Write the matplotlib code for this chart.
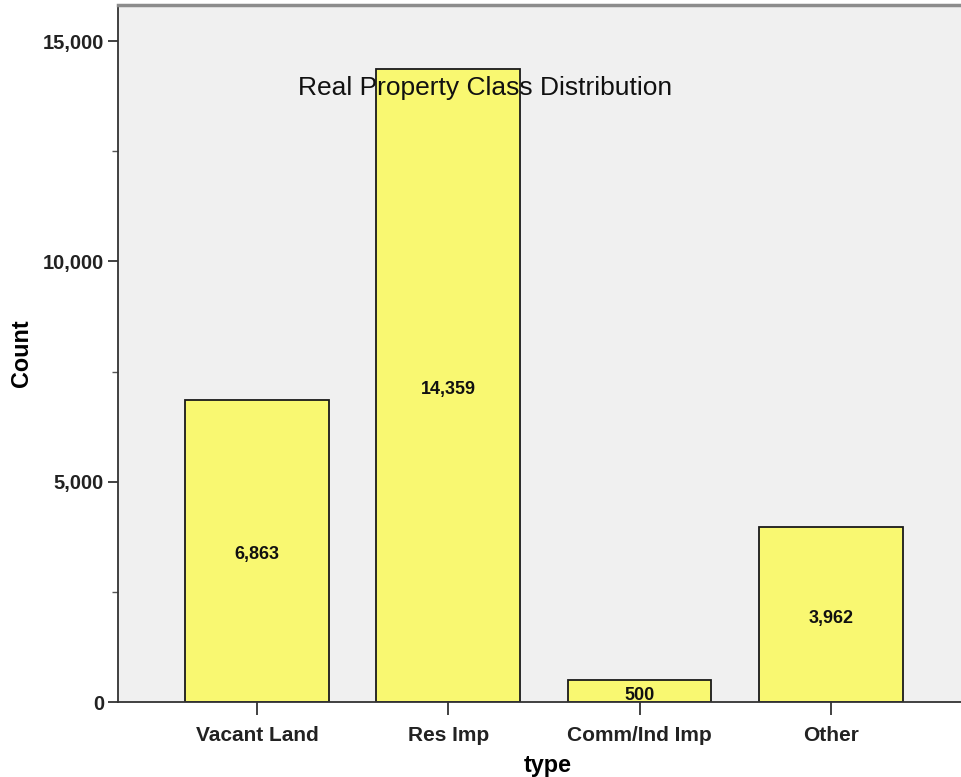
import numpy as np
import matplotlib.pyplot as plt
from matplotlib.ticker import FuncFormatter, MultipleLocator

plt.rcParams['font.family'] = ['Liberation Sans', 'DejaVu Sans']

categories = ["Vacant Land", "Res Imp", "Comm/Ind Imp", "Other"]
counts = [6863, 14359, 500, 3962]
title = "Real Property Class Distribution"

fig = plt.figure(figsize=(9.61, 7.77), dpi=100)
ax = fig.add_axes([118 / 961, 75 / 777, 843 / 961, 697 / 777])
ax.set_facecolor('#F0F0F0')

x = np.arange(len(categories))
bars = ax.bar(x, counts, width=0.75, color='#F9F871', edgecolor='#1a1a1a', linewidth=1.3, zorder=2)

# value labels at mid-height of each bar, nudged down a touch like the original
for b, v in zip(bars, counts):
    ax.annotate(f"{v:,}", (b.get_x() + b.get_width() / 2, v / 2), xytext=(0, -3),
                textcoords='offset points', ha='center', va='center',
                fontsize=13, fontweight='bold', color='#111111', zorder=3)

ax.text(0.436, 0.881, title, transform=ax.transAxes, ha='center', va='center',
        fontsize=19, color='#111111', zorder=4)

ax.set_xlim(-0.726, 3.68)
ax.set_ylim(0, 15817)
ax.set_xticks(x)
ax.set_xticklabels(categories, fontsize=15, fontweight='bold', color='#222222')
ax.yaxis.set_major_locator(MultipleLocator(5000))
ax.yaxis.set_minor_locator(MultipleLocator(2500))
ax.yaxis.set_major_formatter(FuncFormatter(lambda v, p: f"{int(v):,}"))
for lab in ax.get_yticklabels():
    lab.set_fontsize(14.5)
    lab.set_fontweight('bold')
    lab.set_color('#222222')
ax.tick_params(axis='y', which='major', length=7, width=1.3, color='#333333', pad=3)
ax.tick_params(axis='y', which='minor', length=4, width=1.0, color='#555555')
ax.tick_params(axis='x', length=9, width=1.3, color='#333333', pad=8)

ax.set_ylabel("Count", fontsize=16.8, fontweight='bold')
ax.yaxis.set_label_coords(-0.101, 0.501)
ax.set_xlabel("type", fontsize=16.8, fontweight='bold')
ax.xaxis.set_label_coords(0.51, -0.075)

ax.spines['left'].set_color('#333333')
ax.spines['left'].set_linewidth(1.3)
ax.spines['bottom'].set_color('#333333')
ax.spines['bottom'].set_linewidth(1.3)
ax.spines['top'].set_color('#8c8c8c')
ax.spines['top'].set_linewidth(2.5)
ax.spines['right'].set_visible(False)

fig.savefig('out.png', dpi=100)
